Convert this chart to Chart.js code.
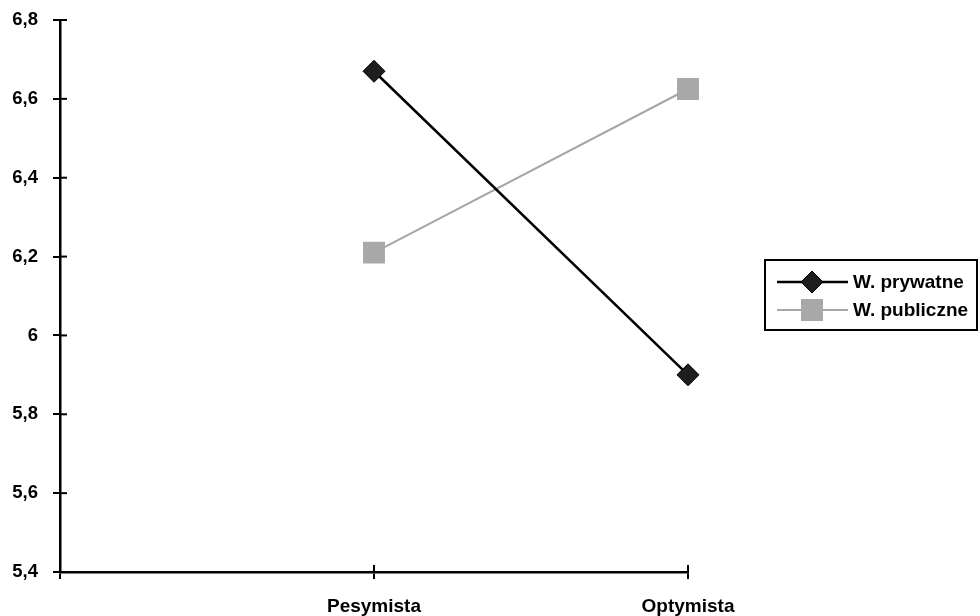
<!DOCTYPE html>
<html>
<head>
<meta charset="utf-8">
<script src="https://cdn.jsdelivr.net/npm/chart.js@4.4.1/dist/chart.umd.min.js"></script>
<style>
  html, body { margin: 0; padding: 0; background: #fff; }
  #wrap { width: 980px; height: 616px; }
</style>
</head>
<body>
<div id="wrap"><canvas id="chart" width="980" height="616"></canvas></div>
<script>
// categories (first slot is empty, as in the original axis)
const categories = ['', 'Pesymista', 'Optymista']
const prywatne = [null, 6.67, 5.90]
const publiczne = [null, 6.21, 6.625]
const seriesNames = ['W. prywatne', 'W. publiczne']
const yTicks = [5.4, 5.6, 5.8, 6.0, 6.2, 6.4, 6.6, 6.8]

const FONT = "'Liberation Sans', Arial, sans-serif"

//=============== ticks that cross the axis lines ===============
const crossTicks = {
  id: 'crossTicks',
  afterDraw(chart) {
    const ctx = chart.ctx
    const x = chart.scales.x, y = chart.scales.y
    ctx.save()
    ctx.strokeStyle = '#000'
    ctx.lineWidth = 2
    y.ticks.forEach((t, i) => {
      const py = y.getPixelForTick(i)
      ctx.beginPath(); ctx.moveTo(x.left, py); ctx.lineTo(x.left + 7, py); ctx.stroke()
    })
    x.ticks.forEach((t, i) => {
      const px = x.getPixelForTick(i)
      if (i === 0) return
      ctx.beginPath(); ctx.moveTo(px, y.bottom); ctx.lineTo(px, y.bottom - 7); ctx.stroke()
    })
    ctx.restore()
  }
}

//=============== boxed legend on the right ===============
const boxLegend = {
  id: 'boxLegend',
  afterDraw(chart) {
    const ctx = chart.ctx
    const left = 765, top = 260, w = 212, h = 70
    ctx.save()
    ctx.fillStyle = '#fff'
    ctx.fillRect(left, top, w, h)
    ctx.strokeStyle = '#000'
    ctx.lineWidth = 2
    ctx.strokeRect(left, top, w, h)
    ctx.font = 'bold 19px ' + FONT
    ctx.textBaseline = 'middle'
    chart.data.datasets.forEach((ds, i) => {
      const cy = top + 22 + i * 28
      ctx.strokeStyle = ds.borderColor
      ctx.lineWidth = ds.borderWidth
      ctx.beginPath(); ctx.moveTo(777, cy); ctx.lineTo(848, cy); ctx.stroke()
      ctx.fillStyle = ds.pointBackgroundColor
      ctx.strokeStyle = ds.pointBorderColor
      ctx.lineWidth = 1
      const cx = 812
      if (ds.pointStyle === 'rectRot') {
        ctx.beginPath()
        ctx.moveTo(cx, cy - 11); ctx.lineTo(cx + 11, cy); ctx.lineTo(cx, cy + 11); ctx.lineTo(cx - 11, cy)
        ctx.closePath(); ctx.fill(); ctx.stroke()
      } else {
        ctx.fillRect(cx - 11, cy - 11, 22, 22)
      }
      ctx.fillStyle = '#000'
      ctx.fillText(ds.label, 853, cy + 1)
    })
    ctx.restore()
  }
}

new Chart(document.getElementById('chart'), {
  type: 'line',
  data: {
    labels: categories,
    datasets: [
      {
        label: seriesNames[0],
        data: prywatne,
        borderColor: '#000',
        borderWidth: 2.5,
        pointStyle: 'rectRot',
        pointRadius: 11,
        pointBackgroundColor: '#1e1e1e',
        pointBorderColor: '#000',
        pointBorderWidth: 1
      },
      {
        label: seriesNames[1],
        data: publiczne,
        borderColor: '#a6a6a6',
        borderWidth: 2,
        pointStyle: 'rect',
        pointRadius: 15.5,
        pointBackgroundColor: '#a8a8a8',
        pointBorderColor: '#a8a8a8',
        pointBorderWidth: 0
      }
    ]
  },
  options: {
    responsive: false,
    animation: false,
    spanGaps: false,
    layout: { padding: { top: 20, right: 292, left: 0, bottom: 0 } },
    plugins: { legend: { display: false }, tooltip: { enabled: false } },
    scales: {
      x: {
        offset: false,
        grid: { drawOnChartArea: false, color: '#000', lineWidth: 2, tickLength: 7 },
        border: { color: '#000', width: 2.5 },
        ticks: { color: '#000', font: { family: FONT, size: 19, weight: 'bold' }, padding: 16, maxRotation: 0 },
        afterFit: s => { s.height = 44; s.paddingLeft = 0; s.paddingRight = 0 }
      },
      y: {
        min: 5.4,
        max: 6.8,
        afterBuildTicks: s => { s.ticks = yTicks.map(v => ({ value: v })) },
        grid: { drawOnChartArea: false, color: '#000', lineWidth: 2, tickLength: 7 },
        border: { color: '#000', width: 2.5 },
        ticks: {
          color: '#000',
          font: { family: FONT, size: 18.5, weight: 'bold' },
          padding: 15,
          callback: v => String(Math.round(v * 10) / 10).replace('.', ',')
        },
        afterFit: s => { s.width = 60; s.paddingTop = 0; s.paddingBottom = 0 }
      }
    }
  },
  plugins: [crossTicks, boxLegend]
})
</script>
</body>
</html>
